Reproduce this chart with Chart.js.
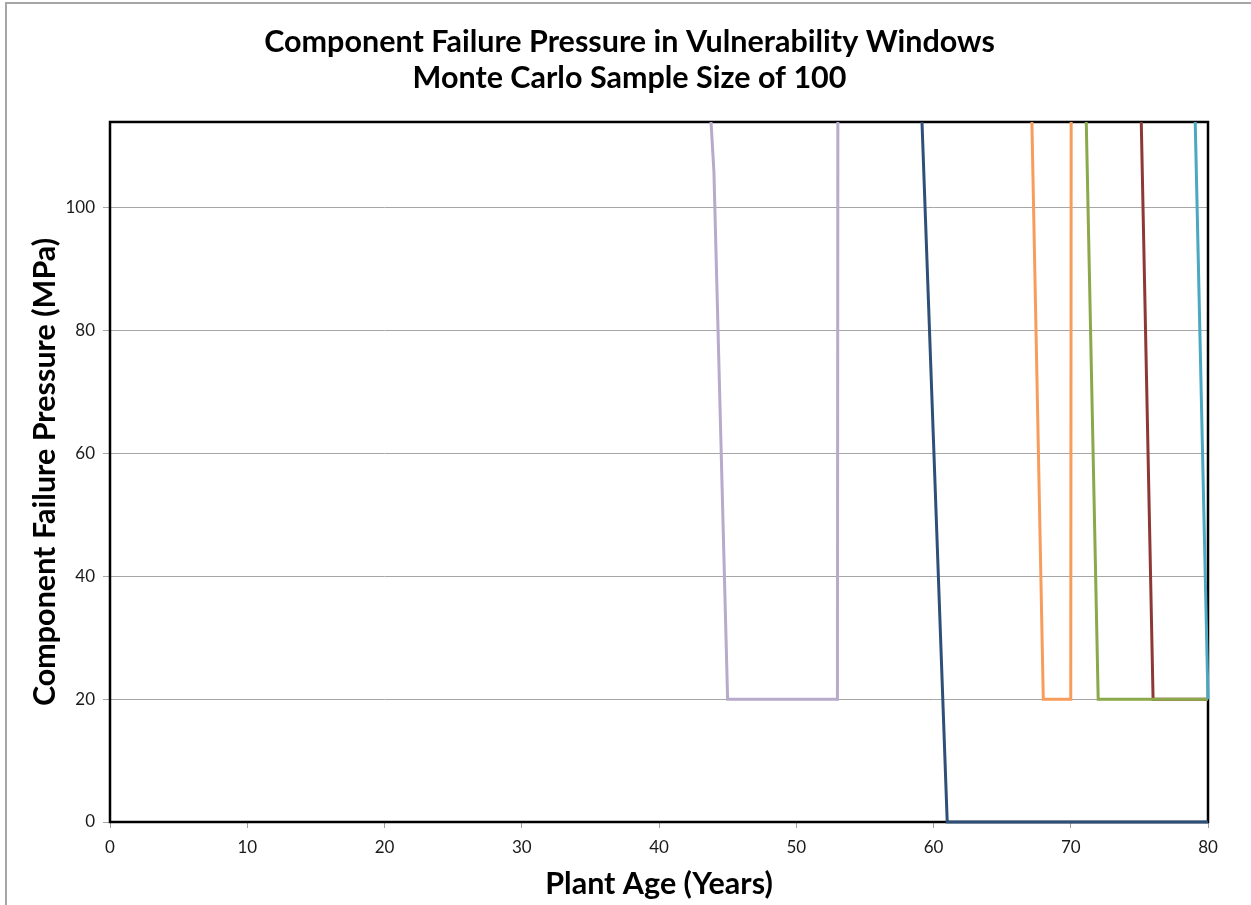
<!DOCTYPE html>
<html>
<head>
<meta charset="utf-8">
<script src="https://cdn.jsdelivr.net/npm/chart.js@4.4.1/dist/chart.umd.min.js"></script>
<style>
  html, body { margin: 0; padding: 0; background: #fff; overflow: hidden; }
  .wrap { position: relative; width: 1251px; height: 905px; }
  .frame { position: absolute; left: 5px; top: 2px; right: -20px; bottom: -20px; border: 2px solid #a6a6a6; pointer-events: none; }
</style>
</head>
<body>
<div class="wrap">
  <canvas id="chart" width="1251" height="905"></canvas>
  <div class="frame"></div>
</div>
<script>
// Ventanas de vulnerabilidad: presión de falla por componente (MPa) vs edad de planta
const lavenderYears = [43, 44, 45, 53, 54];
const lavenderMPa   = [144, 106, 20, 20, 3000];

const navyYears = [59, 60, 61, 80];
const navyMPa   = [124, 62, 0, 0];

const orangeYears = [67, 68, 70, 71];
const orangeMPa   = [133, 20, 20, 3000];

const greenYears = [71, 72, 80];
const greenMPa   = [128, 20, 20];

const redYears = [75, 76, 80];
const redMPa   = [129, 20, 20];

const tealYears = [79, 80];
const tealMPa   = [121, 20];

const xTicks = [0, 10, 20, 30, 40, 50, 60, 70, 80];
const yTicks = [0, 20, 40, 60, 80, 100];
const yMax = 114;

const FONT = 'Lato, "Open Sans", sans-serif';

function pts(xs, ys) { return xs.map((x, i) => ({ x, y: ys[i] })); }
function serie(label, xs, ys, color) {
  return {
    label, data: pts(xs, ys),
    borderColor: color, backgroundColor: color,
    borderWidth: 3, pointRadius: 0, tension: 0, fill: false,
    clip: { left: 0, top: 0, right: 2, bottom: 2 },
  };
}

// marco negro del área de trazado (debajo de las series)
const plotBorder = {
  id: 'plotBorder',
  beforeDatasetsDraw(chart) {
    const { ctx, chartArea: a } = chart;
    ctx.save();
    ctx.strokeStyle = '#000';
    ctx.lineWidth = 2.5;
    ctx.strokeRect(a.left, a.top, a.right - a.left, a.bottom - a.top);
    ctx.restore();
  }
};

new Chart(document.getElementById('chart'), {
  type: 'line',
  data: {
    datasets: [
      serie('Teal', tealYears, tealMPa, '#4BA8C2'),
      serie('Green', greenYears, greenMPa, '#8BA84A'),
      serie('Red', redYears, redMPa, '#8E3836'),
      serie('Orange', orangeYears, orangeMPa, '#F89C5C'),
      serie('Navy', navyYears, navyMPa, '#2E5078'),
      serie('Lavender', lavenderYears, lavenderMPa, '#B8AACB'),
    ]
  },
  options: {
    responsive: false,
    animation: false,
    layout: { padding: { left: 27, right: 19, top: 10, bottom: 0 } },
    plugins: {
      legend: { display: false },
      tooltip: { enabled: false },
      title: {
        display: true,
        text: ['Component Failure Pressure in Vulnerability Windows', 'Monte Carlo Sample Size of 100'],
        color: '#000',
        font: { family: FONT, size: 30.5, weight: 'bold', lineHeight: 1.18 },
        padding: { top: 14, bottom: 26 },
      },
    },
    scales: {
      x: {
        type: 'linear', min: 0, max: 80,
        afterBuildTicks: s => { s.ticks = xTicks.map(v => ({ value: v })); },
        afterFit: s => { s.height = 83; },
        grid: { drawOnChartArea: false, color: '#a0a0a0', tickLength: 6 },
        border: { display: false },
        ticks: { color: '#1a1a1a', font: { family: FONT, size: 17 }, padding: 9, maxRotation: 0 },
        title: {
          display: true, text: 'Plant Age (Years)', color: '#000',
          font: { family: FONT, size: 30.5, weight: 'bold' }, padding: { top: 9, bottom: 3 },
        },
      },
      y: {
        type: 'linear', min: 0, max: yMax,
        afterBuildTicks: s => { s.ticks = yTicks.map(v => ({ value: v })); },
        afterFit: s => { s.width = 83; },
        grid: { color: '#a6a6a6', lineWidth: 1, tickLength: 7 },
        border: { display: false },
        ticks: { color: '#1a1a1a', font: { family: FONT, size: 17 }, padding: 8 },
        title: {
          display: true, text: 'Component Failure Pressure (MPa)', color: '#000',
          font: { family: FONT, size: 30.5, weight: 'bold' }, padding: { top: 0, bottom: 3 },
        },
      },
      // eje vacío a la derecha: solo reserva margen
      yRight: {
        type: 'linear', position: 'right', min: 0, max: yMax,
        afterFit: s => { s.width = 24; },
        grid: { display: false }, border: { display: false }, ticks: { display: false },
      },
    },
  },
  plugins: [plotBorder],
});
</script>
</body>
</html>
